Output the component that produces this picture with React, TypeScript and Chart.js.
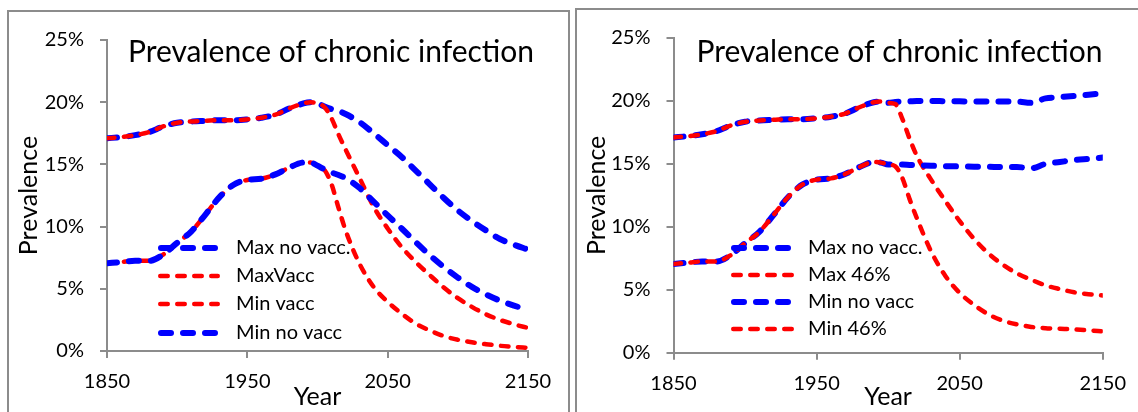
import React, { useEffect, useRef } from "react";
import { Chart, registerables } from "chart.js";

Chart.register(...registerables);

const FONT = "Lato, 'Noto Sans', sans-serif";
const GRAY = "#8c8c8c";

// Years (x values shared by all series)
const years = [1850, 1860, 1870, 1880, 1890, 1900, 1910, 1920, 1930, 1940, 1950, 1960, 1970, 1980, 1990, 1995, 2000, 2005, 2010, 2015, 2020, 2030, 2040, 2050, 2060, 2070, 2080, 2090, 2100, 2110, 2120, 2130, 2140, 2150];

// Left panel (prevalence, %)
const leftMaxNoVacc = [17.1, 17.2, 17.35, 17.6, 18.05, 18.35, 18.45, 18.5, 18.55, 18.55, 18.62, 18.75, 19.0, 19.5, 19.9, 20.0, 19.9, 19.65, 19.45, 19.3, 19.05, 18.4, 17.5, 16.55, 15.6, 14.5, 13.4, 12.3, 11.3, 10.45, 9.7, 9.0, 8.55, 8.15];
const leftMaxVacc = [17.1, 17.2, 17.35, 17.6, 18.05, 18.35, 18.45, 18.5, 18.55, 18.55, 18.62, 18.75, 19.0, 19.5, 19.9, 20.0, 19.9, 19.6, 18.7, 17.4, 16.2, 13.9, 11.6, 9.85, 8.35, 7.15, 6.1, 5.1, 4.25, 3.55, 2.95, 2.5, 2.15, 1.85];
const leftMinVacc = [7.05, 7.15, 7.25, 7.25, 7.75, 8.7, 9.6, 10.95, 12.35, 13.35, 13.75, 13.85, 14.2, 14.75, 15.15, 15.15, 14.9, 14.55, 13.4, 11.5, 9.7, 7.0, 5.15, 3.95, 3.0, 2.2, 1.65, 1.2, 0.9, 0.7, 0.55, 0.42, 0.33, 0.25];
const leftMinNoVacc = [7.05, 7.15, 7.25, 7.25, 7.75, 8.7, 9.6, 10.95, 12.35, 13.35, 13.75, 13.85, 14.2, 14.75, 15.15, 15.15, 14.9, 14.6, 14.35, 14.15, 13.9, 13.1, 12.0, 10.9, 9.85, 8.75, 7.7, 6.75, 5.9, 5.15, 4.55, 4.05, 3.65, 3.3];

// Right panel (prevalence, %)
const rightMaxNoVacc = [17.1, 17.2, 17.35, 17.6, 18.05, 18.35, 18.45, 18.5, 18.55, 18.55, 18.62, 18.75, 19.0, 19.5, 19.9, 19.95, 19.85, 19.92, 19.95, 19.97, 20.0, 20.0, 19.98, 19.97, 19.95, 19.95, 19.95, 19.95, 19.85, 20.2, 20.3, 20.4, 20.5, 20.6];
const rightMax46 = [17.1, 17.2, 17.35, 17.6, 18.05, 18.35, 18.45, 18.5, 18.55, 18.55, 18.62, 18.75, 19.0, 19.5, 19.9, 19.95, 19.85, 19.75, 18.55, 17.0, 15.65, 13.75, 12.05, 10.45, 9.05, 7.9, 7.0, 6.3, 5.8, 5.35, 5.05, 4.8, 4.65, 4.55];
const rightMinNoVacc = [7.05, 7.15, 7.25, 7.25, 7.75, 8.7, 9.6, 10.95, 12.35, 13.35, 13.75, 13.85, 14.2, 14.75, 15.15, 15.1, 14.95, 14.95, 14.95, 14.92, 14.9, 14.85, 14.82, 14.8, 14.78, 14.77, 14.75, 14.75, 14.65, 15.0, 15.15, 15.3, 15.4, 15.5];
const rightMin46 = [7.05, 7.15, 7.25, 7.25, 7.75, 8.7, 9.6, 10.95, 12.35, 13.35, 13.75, 13.85, 14.2, 14.75, 15.15, 15.1, 14.95, 14.8, 13.85, 12.2, 10.7, 8.05, 6.1, 4.75, 3.8, 3.05, 2.55, 2.25, 2.05, 1.95, 1.9, 1.85, 1.78, 1.7];

const yTicks = [0, 5, 10, 15, 20, 25];
const xTicks = [1850, 1950, 2050, 2150];
const TITLE = "Prevalence of chronic infection";

type LineStyle = { color: string; width: number; dash: number[] };
const BLUE: LineStyle = { color: "#0000ff", width: 6, dash: [10, 12] };
const RED: LineStyle = { color: "#ff0000", width: 4.5, dash: [7.5, 9.5] };

type Series = { label: string; values: number[]; style: LineStyle };

const leftSeries: Series[] = [
  { label: "Max no vacc.", values: leftMaxNoVacc, style: BLUE },
  { label: "MaxVacc", values: leftMaxVacc, style: RED },
  { label: "Min vacc", values: leftMinVacc, style: RED },
  { label: "Min no vacc", values: leftMinNoVacc, style: BLUE },
];
const rightSeries: Series[] = [
  { label: "Max no vacc.", values: rightMaxNoVacc, style: BLUE },
  { label: "Max 46%", values: rightMax46, style: RED },
  { label: "Min no vacc", values: rightMinNoVacc, style: BLUE },
  { label: "Min 46%", values: rightMin46, style: RED },
];

const overlayPlugin = {
  id: "overlay",
  afterDatasetsDraw(chart: any, _args: any, opts: any) {
    const ctx = chart.ctx as CanvasRenderingContext2D;
    ctx.save();
    ctx.fillStyle = "#000";
    ctx.font = `${opts.titleSize}px ${FONT}`;
    ctx.textAlign = "center";
    ctx.textBaseline = "middle";
    ctx.fillText(opts.title, opts.titleX, opts.titleY);
    const series: Series[] = opts.series;
    series.forEach((s, i) => {
      const y = opts.rows[i];
      const w = s.style.width;
      ctx.beginPath();
      ctx.setLineDash(s.style.dash);
      ctx.lineWidth = w;
      ctx.strokeStyle = s.style.color;
      ctx.lineCap = "round";
      ctx.moveTo(opts.x0 + w / 2, y);
      ctx.lineTo(opts.x1 - w / 2, y);
      ctx.stroke();
      ctx.setLineDash([]);
      ctx.fillStyle = "#000";
      ctx.font = `${opts.legendSize}px ${FONT}`;
      ctx.textAlign = "left";
      ctx.textBaseline = "middle";
      ctx.fillText(s.label, opts.xt, y);
    });
    ctx.restore();
  },
};

type PanelCfg = {
  left: number;
  top: number;
  boxW: number;
  canvasW: number;
  canvasH: number;
  padTop: number;
  padRight: number;
  yW: number;
  xH: number;
  series: Series[];
  titleX: number;
  titleY: number;
  x0: number;
  x1: number;
  xt: number;
  rows: number[];
};

function Panel({ cfg }: { cfg: PanelCfg }) {
  const ref = useRef<HTMLCanvasElement>(null);
  useEffect(() => {
    const n = cfg.series.length;
    const chart = new Chart(ref.current!, {
      type: "line",
      data: {
        datasets: cfg.series.map((s, i) => ({
          label: s.label,
          data: years.map((yr, k) => ({ x: yr, y: s.values[k] })),
          borderColor: s.style.color,
          backgroundColor: s.style.color,
          borderWidth: s.style.width,
          borderDash: s.style.dash,
          borderCapStyle: "round" as const,
          borderJoinStyle: "round" as const,
          pointRadius: 0,
          cubicInterpolationMode: "monotone" as const,
          fill: false,
          order: n - i,
        })),
      },
      options: {
        animation: false,
        responsive: false,
        maintainAspectRatio: false,
        layout: { padding: { top: cfg.padTop, right: cfg.padRight, left: 0, bottom: 0 } },
        plugins: {
          legend: { display: false },
          tooltip: { enabled: false },
          title: { display: false },
          overlay: {
            title: TITLE,
            titleSize: 30,
            titleX: cfg.titleX,
            titleY: cfg.titleY,
            series: cfg.series,
            rows: cfg.rows,
            x0: cfg.x0,
            x1: cfg.x1,
            xt: cfg.xt,
            legendSize: 20,
          },
        } as any,
        scales: {
          x: {
            type: "linear",
            min: xTicks[0],
            max: xTicks[xTicks.length - 1],
            afterBuildTicks: (s: any) => {
              s.ticks = xTicks.map((v) => ({ value: v }));
            },
            afterFit: (s: any) => {
              s.height = cfg.xH;
            },
            ticks: {
              font: { family: FONT, size: 20 },
              color: "#000",
              padding: 12,
              maxRotation: 0,
              autoSkip: false,
              callback: (v: any) => String(v),
            },
            grid: { drawOnChartArea: false, drawTicks: true, tickLength: 7, color: GRAY, lineWidth: 2 },
            border: { color: GRAY, width: 2 },
            title: {
              display: true,
              text: "Year",
              color: "#000",
              font: { family: FONT, size: 25, lineHeight: 1.2 },
              padding: { top: 0, bottom: 0 },
            },
          },
          y: {
            type: "linear",
            min: yTicks[0],
            max: yTicks[yTicks.length - 1],
            afterBuildTicks: (s: any) => {
              s.ticks = yTicks.map((v) => ({ value: v }));
            },
            afterFit: (s: any) => {
              s.width = cfg.yW;
            },
            ticks: {
              font: { family: FONT, size: 20 },
              color: "#000",
              padding: 16,
              autoSkip: false,
              callback: (v: any) => `${v}%`,
            },
            grid: { drawOnChartArea: false, drawTicks: true, tickLength: 7, color: GRAY, lineWidth: 2 },
            border: { color: GRAY, width: 2 },
            title: {
              display: true,
              text: "Prevalence",
              color: "#000",
              font: { family: FONT, size: 25, lineHeight: 1.2 },
              padding: { top: 5, bottom: 0 },
            },
          },
        },
      } as any,
      plugins: [overlayPlugin],
    });
    return () => chart.destroy();
  }, []);
  return (
    <div
      style={{
        position: "absolute",
        left: cfg.left,
        top: cfg.top,
        width: cfg.boxW,
        height: 430,
        border: `2px solid ${GRAY}`,
        boxSizing: "border-box",
        background: "#fff",
      }}
    >
      <canvas
        ref={ref}
        width={cfg.canvasW}
        height={cfg.canvasH}
        style={{ display: "block", width: cfg.canvasW, height: cfg.canvasH }}
      />
    </div>
  );
}

const leftCfg: PanelCfg = {
  left: 7,
  top: 10,
  boxW: 563,
  canvasW: 559,
  canvasH: 400,
  padTop: 19,
  padRight: 40,
  yW: 98,
  xH: 61,
  series: leftSeries,
  titleX: 322,
  titleY: 40,
  x0: 149,
  x1: 211,
  xt: 227,
  rows: [236, 264, 292, 321],
};

const rightCfg: PanelCfg = {
  left: 575,
  top: 8,
  boxW: 600,
  canvasW: 561,
  canvasH: 402,
  padTop: 21,
  padRight: 32.5,
  yW: 96.5,
  xH: 59.3,
  series: rightSeries,
  titleX: 322.5,
  titleY: 42,
  x0: 154,
  x1: 220,
  xt: 231,
  rows: [238, 265, 292, 319],
};

export default function App() {
  return (
    <div
      style={{
        position: "fixed",
        left: 0,
        top: 0,
        width: 1138,
        height: 412,
        overflow: "hidden",
        background: "#fff",
      }}
    >
      <Panel cfg={leftCfg} />
      <Panel cfg={rightCfg} />
    </div>
  );
}
